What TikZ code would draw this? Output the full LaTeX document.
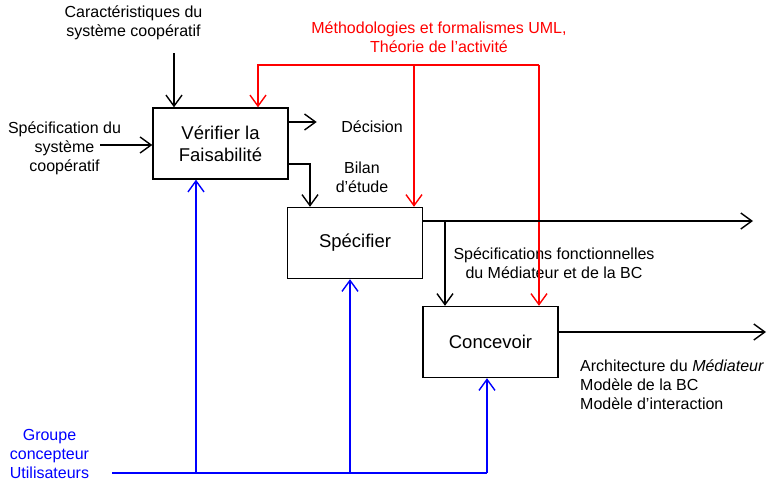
\documentclass[tikz,border=0pt]{standalone}
\usepackage{fontspec}
\setmainfont{Liberation Sans}
\usetikzlibrary{arrows.meta}
\tikzset{
  fleche/.style={-{Straight Barb[length=11pt,width=16pt]}, line width=1.4pt},
  activite/.style={draw, line width=1.4pt, minimum width=135pt, minimum height=71pt,
    inner sep=0pt, align=center, font=\fontsize{18.5}{21.7}\selectfont},
  etiquette/.style={inner sep=0pt, align=center, font=\fontsize{16}{19}\selectfont},
}
\begin{document}
\begin{tikzpicture}[x=1pt,y=-1pt]
    \useasboundingbox (0,0) rectangle (774,482);

    % Activites
    \node[activite] (verifier) at (220.5,143.5) {V\'erifier la\\Faisabilit\'e};
    \node[activite] (specifier) at (355,243) {Sp\'ecifier};
    \node[activite] (concevoir) at (490.5,342) {Concevoir};

    % Textes
    \node[etiquette] (carac) at (133.5,23) {Caract\'eristiques du\\syst\`eme coop\'eratif};
    \node[etiquette] (specif) at (64.5,148) {Sp\'ecification du\\syst\`eme\\coop\'eratif};
    \node[etiquette,red] (methodo) at (439,37) {M\'ethodologies et formalismes UML,\\Th\'eorie de l'activit\'e};
    \node[etiquette,anchor=base] (decision) at (372,132) {D\'ecision};
    \node[etiquette] (bilan) at (362,177) {Bilan\\d'\'etude};
    \node[etiquette] (specfonc) at (554,263) {Sp\'ecifications fonctionnelles\\du M\'ediateur et de la BC};
    \node[etiquette,align=left,anchor=north west] (archi) at (580,360)
        {Architecture du \textit{M\'ediateur}\\Mod\`ele de la BC\\Mod\`ele d'interaction};
    \node[etiquette,blue] (groupe) at (49.5,454) {Groupe\\concepteur\\Utilisateurs};

    % Points libres
    \coordinate (c1) at (174,53);
    \coordinate (s1) at (100,145);
    \coordinate (r0) at (258,65);
    \coordinate (r1) at (414,65);
    \coordinate (r2) at (539,65);
    \coordinate (so) at (753,221);
    \coordinate (sb) at (445,221);
    \coordinate (co) at (766,332);
    \coordinate (g) at (112,473);
    \coordinate (b1) at (196,473);
    \coordinate (b2) at (350,473);
    \coordinate (b3) at (487,473);

    % Entrees
    \draw[fleche] (c1) -- (c1 |- verifier.north);
    \draw[fleche] (s1) -- (s1 -| verifier.west);

    % Controles (rouge)
    \draw[fleche,red] (r2) -| (r0 |- verifier.north);
    \draw[fleche,red] (r1) -- (r1 |- specifier.north);
    \draw[fleche,red] (r2) -- (r2 |- concevoir.north);

    % Sorties
    \draw[fleche] ([yshift=21.5pt]verifier.east) -- ++(28,0);
    \draw[fleche] ([yshift=-20.5pt]verifier.east) -| ([xshift=-45pt]specifier.north);
    \draw[fleche] (so -| specifier.east) -- (so);
    \draw[fleche] (sb) -- (sb |- concevoir.north);
    \draw[fleche] (co -| concevoir.east) -- (co);

    % Mecanismes (bleu)
    \draw[line width=1.4pt,blue] (g) -- (b3);
    \draw[fleche,blue] (b1) -- (b1 |- verifier.south);
    \draw[fleche,blue] (b2) -- (b2 |- specifier.south);
    \draw[fleche,blue] (b3) -- (b3 |- concevoir.south);
\end{tikzpicture}
\end{document}
